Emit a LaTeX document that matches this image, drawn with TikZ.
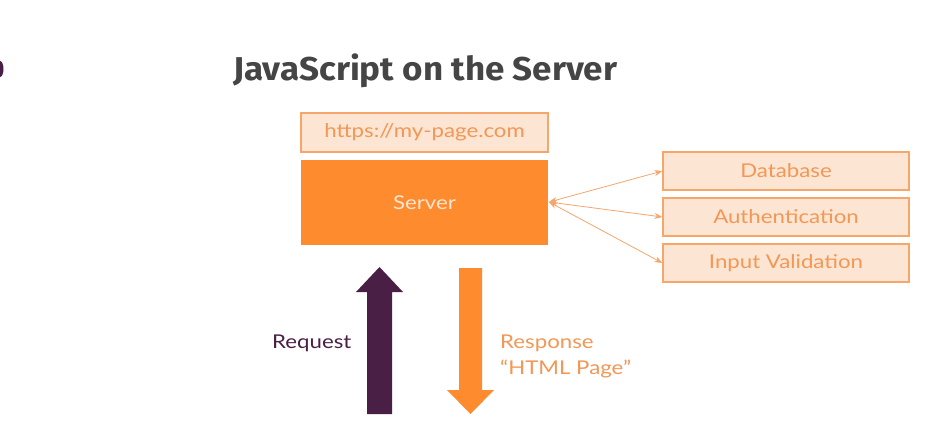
\documentclass[tikz,border=0pt]{standalone}
\usepackage{fontspec}
\setmainfont{Lato}[FakeStretch=1.17]
\newfontfamily\titlefont{Fira Sans}[FakeStretch=1.06]
\usetikzlibrary{arrows.meta}
\definecolor{srvorange}{HTML}{FF8B2F}
\definecolor{lightpeach}{HTML}{FDE5D3}
\definecolor{peachline}{HTML}{F5A66B}
\definecolor{peachtext}{HTML}{F29755}
\definecolor{plum}{HTML}{4A1F45}
\definecolor{titlegray}{HTML}{454545}
\tikzset{
  lightbox/.style={draw=peachline, line width=1.2pt, fill=lightpeach, text=peachtext,
    minimum width=246pt, minimum height=38pt, inner sep=0pt, font=\fontsize{19}{22}\selectfont},
  link/.style={draw=peachline, line width=0.8pt, {Stealth[length=8pt,width=6pt]}-{Stealth[length=8pt,width=6pt]}},
  caption/.style={font=\fontsize{19}{24}\selectfont, inner sep=0pt}
}
\begin{document}
\begin{tikzpicture}[x=1pt,y=-1pt]
\useasboundingbox (0,0) rectangle (945,426);
\fill[white] (0,0) rectangle (945,426);
% small mark at the left edge
\fill[plum] (0,69) ellipse (3.5pt and 8pt);
% title
\node[anchor=base west, inner sep=0pt, text=titlegray, font=\titlefont\bfseries\fontsize{33}{38}\selectfont] (title) at (233,80) {JavaScript on the Server};
% url and server
\node[lightbox, minimum width=247pt, minimum height=39pt] (url) at (424.5,132.5) {https://my-page.com};
\node[fill=srvorange, minimum width=247pt, minimum height=85pt, inner sep=0pt, text=lightpeach, font=\fontsize{19}{22}\selectfont] (server) at (424.5,202.5) {Server};
% services
\node[lightbox] (db) at (786,171) {Database};
\node[lightbox] (auth) at (786,217) {Authentication};
\node[lightbox] (valid) at (786,263) {Input Validation};
\coordinate (hub) at (549,202);
\draw[link] (hub) -- (db.west);
\draw[link] (hub) -- (auth.west);
\draw[link] (hub) -- (valid.west);
% request arrow (up)
\coordinate (reqtip) at (379.5,267);
\fill[plum] (367,414) -- (367,292) -- (356,292) -- (reqtip) -- (403,292) -- (392,292) -- (392,414) -- cycle;
% response arrow (down)
\coordinate (restip) at (470.5,414);
\fill[srvorange] (459,268) -- (459,390) -- (447,390) -- (restip) -- (494,390) -- (482,390) -- (482,268) -- cycle;
% labels
\node[caption, text=plum, anchor=base west] (req) at (272,348) {Request};
\node[caption, text=peachtext, anchor=base west] (resp) at (500,348) {Response};
\node[caption, text=peachtext, anchor=base west] (html) at (500,374) {“HTML Page”};
\end{tikzpicture}
\end{document}
